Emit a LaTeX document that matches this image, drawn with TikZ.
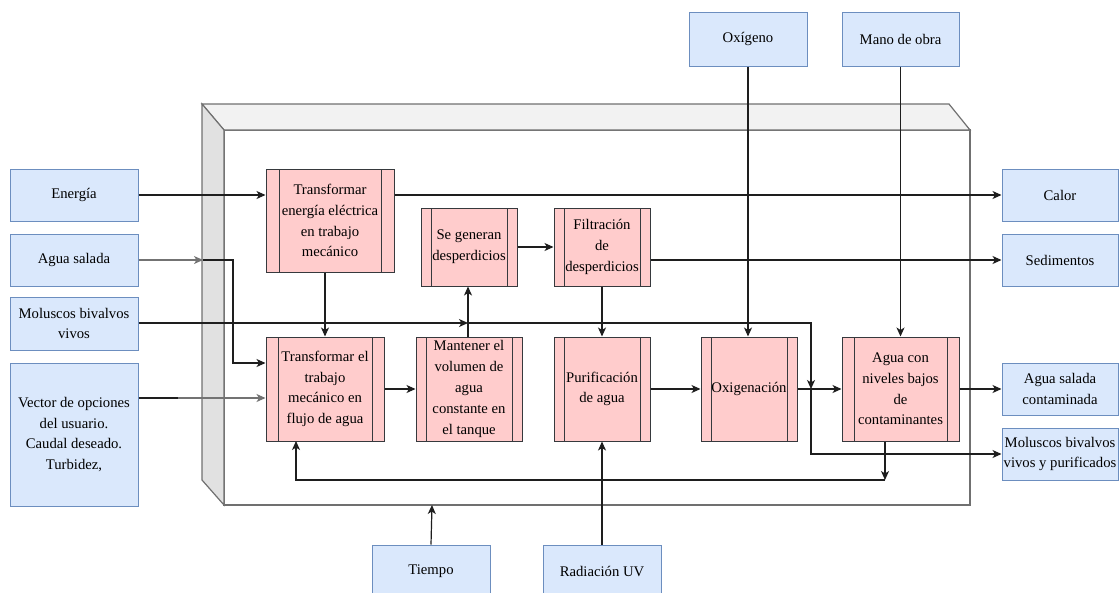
\documentclass[tikz,border=0pt]{standalone}
\usepackage{fontspec}
\setmainfont{Liberation Serif}
\usetikzlibrary{arrows.meta,calc}
\definecolor{inF}{HTML}{DAE8FC}
\definecolor{inD}{HTML}{6C8EBF}
\definecolor{prF}{HTML}{FFCCCC}
\definecolor{prD}{HTML}{36393D}
\definecolor{cubeD}{HTML}{707070}
\definecolor{topF}{HTML}{F2F2F2}
\definecolor{sideF}{HTML}{E1E1E1}
\definecolor{lnC}{HTML}{1E1E1E}
\tikzset{
  txt/.style={font=\fontsize{14.7}{20.8}\selectfont, align=center, text=black, inner sep=0pt},
  inbox/.style={txt, draw=inD, fill=inF, line width=1pt},
  proc/.style={txt, draw=prD, fill=prF, line width=1pt,
    path picture={\draw[prD, line width=1pt]
      ([xshift=#1]path picture bounding box.north west) -- ([xshift=#1]path picture bounding box.south west)
      ([xshift=-#1]path picture bounding box.north east) -- ([xshift=-#1]path picture bounding box.south east);}},
  link/.style={draw=lnC, line width=1.2pt},
  arr/.style={link, -{Stealth[length=9pt,width=8pt,inset=2.5pt]}},
}
\begin{document}
\begin{tikzpicture}[x=1pt,y=-1pt]
\useasboundingbox (0,0) rectangle (1119,592);
% cube
\draw[cubeD, line width=1.2pt, fill=white] (224,130) rectangle (970,505);
\draw[cubeD, line width=1.2pt, fill=topF] (202,104) -- (949,104) -- (970,130) -- (224,130) -- cycle;
\draw[cubeD, line width=1.2pt, fill=sideF] (202,104) -- (224,130) -- (224,505) -- (202,480) -- cycle;
% inputs
\node[inbox, minimum width=128, minimum height=52] (en) at (74,195) {Energía};
\node[inbox, minimum width=128, minimum height=52] (as) at (74,260) {Agua salada};
\node[inbox, minimum width=128, minimum height=53] (mb) at (74,323.5) {Moluscos bivalvos\\vivos};
\node[inbox, minimum width=128, minimum height=143] (vo) at (74,434.5) {Vector de opciones\\del usuario.\\Caudal deseado.\\Turbidez,};
\node[inbox, minimum width=118, minimum height=54] (ox) at (748,39) {Oxígeno};
\node[inbox, minimum width=117, minimum height=54] (mo) at (900.5,39) {Mano de obra};
\node[inbox, minimum width=118, minimum height=52] (ti) at (431,571) {Tiempo};
\node[inbox, minimum width=118, minimum height=52] (ra) at (602,571) {Radiación UV};
% outputs
\node[inbox, minimum width=116, minimum height=52] (ca) at (1060,195) {Calor};
\node[inbox, minimum width=116, minimum height=52] (se) at (1060,260) {Sedimentos};
\node[inbox, minimum width=116, minimum height=52] (asc) at (1060,389) {Agua salada\\contaminada};
\node[inbox, minimum width=116, minimum height=52] (mbp) at (1060,454) {Moluscos bivalvos\\vivos y purificados};
% processes
\node[proc=13pt, minimum width=128, minimum height=103] (p1) at (330,220.5) {Transformar\\energía eléctrica\\en trabajo\\mecánico};
\node[proc=12pt, minimum width=118, minimum height=104] (p2) at (325,389) {Transformar el\\trabajo\\mecánico en\\flujo de agua};
\node[proc=10pt, minimum width=106, minimum height=104] (p3) at (469,389) {Mantener el\\volumen de\\agua\\constante en\\el tanque};
\node[proc=10pt, minimum width=96, minimum height=78] (p4) at (469,247) {Se generan\\desperdicios};
\node[proc=10pt, minimum width=96, minimum height=78] (p5) at (602,247) {Filtración\\de\\desperdicios};
\node[proc=10pt, minimum width=96, minimum height=104] (p6) at (602,389) {Purificación\\de agua};
\node[proc=10pt, minimum width=96, minimum height=104] (p7) at (749,389) {Oxigenación};
\node[proc=12pt, minimum width=117, minimum height=104] (p8) at (900.5,389) {Agua con\\niveles bajos\\de\\contaminantes};
% junction coordinates
\coordinate (asj) at (203,260);
\coordinate (mbj) at (468,323);
\coordinate (oxj) at (811,389);
\coordinate (fb) at (885,480);
\coordinate (bot) at (432,505);
% connectors
\draw[arr] (en.east) -- (en.east -| p1.west);
\draw[arr] (p1.east |- ca.west) -- (ca.west);
\draw[arr, draw=black!55] (as.east) -- (asj);
\draw[arr] (asj) -| (233,363) -- (p2.west |- 0,363);
\draw[link] (vo.east |- 0,398) -- (178,398);
\draw[arr, draw=black!55] (178,398) -- (p2.west |- 0,398);
\draw[arr] (mb.east |- mbj) -- (mbj);
\draw[arr] (mbj) -| (oxj);
\draw[arr] (oxj) |- (mbp.west);
\draw[arr] (p2.north |- p1.south) -- (p2.north);
\draw[arr] (p2.east) -- (p3.west);
\draw[arr] (mbj |- p3.north) -- (mbj |- p4.south);
\draw[arr] (p4.east) -- (p5.west);
\draw[arr] (p5.east |- se.west) -- (se.west);
\draw[arr] (p5.south) -- (p6.north);
\draw[arr] (p6.east) -- (p7.west);
\draw[arr] (p7.east) -- (p8.west);
\draw[arr] (p8.east) -- (asc.west);
\draw[arr] (ox.south) -- (ox.south |- p7.north);
\draw[arr] (mo.south) -- (p8.north);
\draw[arr] (fb |- p8.south) -- (fb);
\draw[arr] (fb) -| (296,441);
\draw[arr] (ti.north) -- (bot);
\draw[arr] (ra.north) -- (p6.south);
\end{tikzpicture}
\end{document}
